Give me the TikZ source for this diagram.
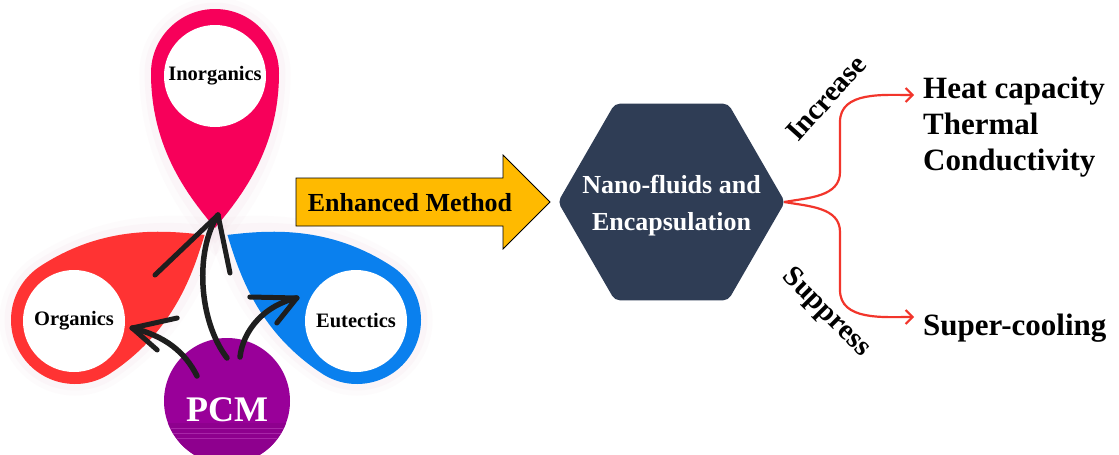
\documentclass[tikz,border=0pt]{standalone}
\usepackage{fontspec}
\setmainfont{Liberation Serif}
\usetikzlibrary{arrows.meta,shapes.geometric,calc}
\definecolor{pinkc}{HTML}{F7005A}
\definecolor{orgc}{HTML}{FF3333}
\definecolor{eutc}{HTML}{0A80EE}
\definecolor{pcmc}{HTML}{990099}
\definecolor{yelc}{HTML}{FFBA00}
\definecolor{hexc}{HTML}{2F3D55}
\definecolor{branchc}{HTML}{F2352B}
\definecolor{brushc}{HTML}{1E1E1E}
\definecolor{haloc}{HTML}{E4B4C8}
\tikzset{
  dropshape/.pic={\fill[pic actions] (0,-155) .. controls (-25,-125) and (-64,-77) .. (-64,0) arc[start angle=180,end angle=0,radius=64] .. controls (64,-77) and (25,-125) .. cycle;},
  wc/.style={circle,fill=white,minimum size=102,inner sep=0,font=\bfseries\fontsize{20.5}{24}\selectfont},
  brush/.style={draw=brushc,line width=5.5,line cap=round,line join=round},
  barb/.style={draw=brushc,line width=5,line cap=round},
  branch/.style={draw=branchc,line width=2.2,-{Straight Barb[length=7,width=14,line width=2]}},
  lbl/.style={font=\bfseries\fontsize{31}{36}\selectfont,anchor=base west,inner sep=0},
  rot/.style={font=\bfseries\fontsize{29}{32}\selectfont,inner sep=0},
  hextxt/.style={font=\bfseries\fontsize{26}{30}\selectfont,text=white,anchor=base,inner sep=0},
}
\begin{document}
\begin{tikzpicture}[x=1pt,y=1pt]
\useasboundingbox (0,0) rectangle (1119,-455);
\clip (0,0) rectangle (1119,-455);
\fill[white] (0,0) rectangle (1119,-455);

% halos
\foreach \s/\o in {1.18/0.05,1.10/0.07}{
  \pic[rotate=123.3,fill=haloc,opacity=\o,scale=\s] at (75,-320) {dropshape};
  \pic[rotate=-123.3,fill=haloc,opacity=\o,scale=\s] at (357,-320) {dropshape};
  \pic[fill=haloc,opacity=\o,scale=\s] at (215,-73) {dropshape};
}

% teardrops
\pic[rotate=123.3,fill=orgc] at (75,-320) {dropshape};
\pic[rotate=-123.3,fill=eutc] at (357,-320) {dropshape};
\pic[fill=pinkc] at (215,-73) {dropshape};
\coordinate (ptip) at (215,-228);

\node[wc] (inorg) at (215,-76) {Inorganics};
\node[wc] (org) at (74,-321) {Organics};
\node[wc] (eut) at (356,-321) {Eutectics};

% PCM
\node[circle,fill=pcmc,minimum size=126,inner sep=0] (pcm) at (227,-401) {};
\begin{scope}
  \clip (pcm.center) circle (63);
  \fill[pcmc!93!black] (150,-423) rectangle (310,-460);
  \foreach \yy in {-428,-433,-438}{\draw[pcmc!85!white,line width=0.5] (150,\yy) -- (310,\yy);}
\end{scope}
\node[text=white,font=\bfseries\fontsize{36}{40}\selectfont,inner sep=0,anchor=base] (pcmtxt) at (227,-421) {PCM};

% brush arrows
\coordinate (otip) at ($(org.east)+(7,-7)$);
\coordinate (etip) at ($(eut.west)+(-8,23)$);
\coordinate (itip) at ($(ptip)+(3,13)$);
\coordinate (otail) at ($(pcm.center)+(-30,25)$);
\coordinate (ctail) at ($(pcm.center)+(0,43)$);
\coordinate (rtail) at ($(pcm.center)+(13,44)$);

\draw[brush] (otail) .. controls ($(otail)+(-12,24)$) and ($(otip)+(33,-8)$) .. (otip);
\draw[barb] (otip) -- ++(45,10);
\draw[barb] (otip) -- ++(25,-22);

\draw[brush] (ctail) .. controls ($(ctail)+(-29,38)$) and ($(itip)+(-23,-35)$) .. (itip);
\draw[barb] (itip) -- ++(-63,-60);
\draw[barb] (itip) -- ++(12,-58);

\draw[brush] (rtail) .. controls ($(rtail)+(3,27)$) and ($(etip)+(-32,-7)$) .. (etip);
\draw[barb] (etip) -- ++(-47,1);
\draw[barb] (etip) -- ++(-20,-25);

% yellow arrow
\fill[yelc,draw=black,line width=0.8] (296,-178) -- (503,-178) -- (503,-155) -- (550,-202) -- (503,-249) -- (503,-226) -- (296,-226) -- cycle;
\node[font=\bfseries\fontsize{26}{30}\selectfont,anchor=base,inner sep=0] (enh) at (410,-211.7) {Enhanced Method};

% hexagon
\node[regular polygon,regular polygon sides=6,minimum size=227,inner sep=0,fill=hexc,rounded corners=5] (hex) at (671.5,-202) {};
\node[hextxt] (nano) at (671.5,-193) {Nano-fluids and};
\node[hextxt] (enc) at (671.5,-230) {Encapsulation};

% branches
\coordinate (upEnd) at (914,-95);
\coordinate (dnEnd) at (914,-317);
\draw[branch] ([xshift=-1]hex.east) to[out=10,in=-90] (840,-172) -- (840,-122) to[out=90,in=180] (upEnd);
\draw[branch] ([xshift=-1]hex.east) to[out=-10,in=90] (840,-232) -- (840,-290) to[out=-90,in=180] (dnEnd);

\node[rot,rotate=48] (inc) at (826,-98) {Increase};
\node[rot,rotate=-45] (sup) at (826,-313) {Suppress};

\node[lbl] (heat) at (923,-98.3) {Heat capacity};
\node[lbl] (therm) at (923,-134) {Thermal};
\node[lbl] (cond) at (923,-170) {Conductivity};
\node[lbl] (cool) at (923,-335) {Super-cooling};
\end{tikzpicture}
\end{document}
